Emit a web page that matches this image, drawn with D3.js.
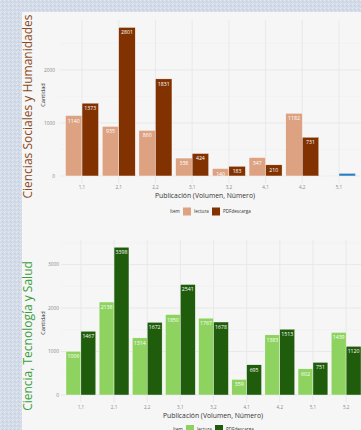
<!DOCTYPE html>
<html><head><meta charset="utf-8">
<script src="https://cdn.jsdelivr.net/npm/d3@7"></script>
<style>html,body{margin:0;padding:0;background:#d6dce8;overflow:hidden}svg{display:block}</style>
</head><body>
<script>
// ---- data ----
const topCategories = ["1,1","2,1","2,2","3,1","3,2","4,1","4,2","5,1"];
const topLectura    = [1140, 935, 860, 338, 140, 347, 1182, 10];
const topPdf        = [1373, 2801, 1831, 424, 183, 210, 731, 50];
const topYTicks     = [0, 1000, 2000];

const botCategories = ["1,1","2,1","2,2","3,1","3,2","4,1","4,2","5,1","5,2"];
const botLectura    = [1006, 2138, 1314, 1850, 1767, 359, 1383, 602, 1439];
const botPdf        = [1467, 3398, 1672, 2541, 1678, 695, 1513, 751, 1120];
const botYTicks     = [0, 1000, 2000, 3000];

const seriesNames = ["lectura", "PDFdescarga"];
const legendTitle = "Item";
const xTitle = "Publicación (Volumen, Número)";
const yTitle = "Cantidad";
const topTitle = "Ciencias Sociales y Humanidades";
const botTitle = "Ciencia, Tecnología y Salud";

const W = 361, H = 430;
const svg = d3.select("body").append("svg").attr("width", W).attr("height", H);

// textured background
const defs = svg.append("defs");
const pat = defs.append("pattern").attr("id","tex").attr("width",4).attr("height",4).attr("patternUnits","userSpaceOnUse");
pat.append("rect").attr("width",4).attr("height",4).attr("fill","#d4dbe8");
pat.append("rect").attr("x",0).attr("y",0).attr("width",1).attr("height",1).attr("fill","#e6eaf2");
pat.append("rect").attr("x",2).attr("y",1).attr("width",1).attr("height",1).attr("fill","#c5cddd");
pat.append("rect").attr("x",1).attr("y",3).attr("width",1).attr("height",1).attr("fill","#e2e6ef");
pat.append("rect").attr("x",3).attr("y",2).attr("width",1).attr("height",1).attr("fill","#cbd2e1");
svg.append("rect").attr("width",W).attr("height",H).attr("fill","url(#tex)");
svg.append("rect").attr("x",22).attr("y",12).attr("width",W-22).attr("height",H-12).attr("fill","#f6f6f6");

const font = "'Open Sans', 'Noto Sans', sans-serif";

function panel(cfg) {
  const g = svg.append("g");
  const x = d3.scalePoint().domain(cfg.categories).range(cfg.xRange).padding(0.6);
  const y = d3.scaleLinear().domain(cfg.yDomain).range(cfg.yRange);
  const step = x.step();
  const bw = step * 0.45;
  const top = cfg.yRange[1], bottom = cfg.yRange[0];

  // minor grid
  const minor = [];
  for (let i = 0; i < cfg.yTicks.length; i++) {
    const v = cfg.yTicks[i] + 500;
    if (v < cfg.yDomain[1]) minor.push(v);
  }
  g.selectAll(".minor").data(minor).join("line")
    .attr("x1", cfg.xRange[0]).attr("x2", cfg.xRange[1])
    .attr("y1", d => y(d)).attr("y2", d => y(d))
    .attr("stroke", "#eeeeee").attr("stroke-width", 0.5);
  // major grid
  g.selectAll(".major").data(cfg.yTicks).join("line")
    .attr("x1", cfg.xRange[0]).attr("x2", cfg.xRange[1])
    .attr("y1", d => y(d)).attr("y2", d => y(d))
    .attr("stroke", "#e6e6e6").attr("stroke-width", 0.8);
  g.selectAll(".vgrid").data(cfg.categories).join("line")
    .attr("x1", d => x(d)).attr("x2", d => x(d))
    .attr("y1", top).attr("y2", bottom)
    .attr("stroke", "#e6e6e6").attr("stroke-width", 0.8);

  const data = cfg.categories.map((c, i) => ({c, l: cfg.lectura[i], p: cfg.pdf[i]}));
  const colL = d => (cfg.alt && d.c === cfg.alt.cat) ? cfg.alt.l : cfg.colors[0];
  const colP = d => (cfg.alt && d.c === cfg.alt.cat) ? cfg.alt.p : cfg.colors[1];

  g.selectAll(".bl").data(data).join("rect")
    .attr("x", d => x(d.c) - bw).attr("width", bw)
    .attr("y", d => y(d.l)).attr("height", d => y(0) - y(d.l))
    .attr("fill", colL).attr("stroke", "#ffffff").attr("stroke-width", 0.4);
  g.selectAll(".bp").data(data).join("rect")
    .attr("x", d => x(d.c)).attr("width", bw)
    .attr("y", d => y(d.p)).attr("height", d => y(0) - y(d.p))
    .attr("fill", colP).attr("stroke", "#ffffff").attr("stroke-width", 0.4);

  const lab = [];
  data.forEach(d => {
    if (d.l >= 100) lab.push({x: x(d.c) - bw/2, v: d.l});
    if (d.p >= 100) lab.push({x: x(d.c) + bw/2, v: d.p});
  });
  g.selectAll(".lab").data(lab).join("text")
    .attr("x", d => d.x).attr("y", d => y(d.v) + 7)
    .attr("text-anchor", "middle").attr("font-family", font).attr("font-size", 5.2)
    .attr("fill", "#ffffff").text(d => d.v);

  // axes text
  g.selectAll(".xt").data(cfg.categories).join("text")
    .attr("x", d => x(d)).attr("y", cfg.xTickY)
    .attr("text-anchor", "middle").attr("font-family", font).attr("font-size", 4.6)
    .attr("fill", "#888").text(d => d);
  g.selectAll(".yt").data(cfg.yTicks).join("text")
    .attr("x", cfg.yTickX).attr("y", d => y(d) + 1.7)
    .attr("text-anchor", "end").attr("font-family", font).attr("font-size", 4.8)
    .attr("fill", "#888").text(d => d);
  g.append("text").attr("x", cfg.xTitleX).attr("y", cfg.xTitleY)
    .attr("text-anchor", "middle").attr("font-family", font).attr("font-size", 6.8)
    .attr("fill", "#333").text(xTitle);
  g.append("text").attr("transform", `translate(${cfg.yTitleX},${cfg.yTitleY}) rotate(-90)`)
    .attr("text-anchor", "middle").attr("font-family", font).attr("font-size", 5.6)
    .attr("fill", "#333").text(yTitle);

  // legend
  const lg = g.append("g").attr("transform", `translate(0,${cfg.legY})`);
  lg.append("text").attr("x", cfg.legX).attr("y", 5.5).attr("font-family", font).attr("font-size", 4.6)
    .attr("fill", "#333").text(legendTitle);
  const sx = [cfg.legX + 13, cfg.legX + 42];
  seriesNames.forEach((s, i) => {
    lg.append("rect").attr("x", sx[i]).attr("y", 0).attr("width", 8).attr("height", 8)
      .attr("fill", cfg.colors[i]);
    lg.append("text").attr("x", sx[i] + 11).attr("y", 5.5).attr("font-family", font).attr("font-size", 4.6)
      .attr("fill", "#333").text(s);
  });

  // side title
  svg.append("text").attr("transform", `translate(${cfg.titleX},${cfg.titleY}) rotate(-90)`)
    .attr("text-anchor", "middle").attr("font-family", font).attr("font-size", cfg.titleSize)
    .attr("fill", cfg.titleColor).text(cfg.title);
}

panel({
  categories: topCategories, lectura: topLectura, pdf: topPdf, yTicks: topYTicks,
  xRange: [60, 361], yDomain: [-140, 2941], yRange: [183.4, 20],
  colors: ["#dca282", "#823200"], alt: {cat: "5,1", l: "#a9c9e8", p: "#2e7cc0"},
  xTickY: 189.3, yTickX: 55, xTitleX: 205, xTitleY: 197.8, yTitleX: 45, yTitleY: 95,
  legX: 170, legY: 207.5,
  title: topTitle, titleX: 32, titleY: 106.5, titleSize: 12, titleColor: "#8a4a1c"
});
panel({
  categories: botCategories, lectura: botLectura, pdf: botPdf, yTicks: botYTicks,
  xRange: [61, 366], yDomain: [-170, 3568], yRange: [402.4, 239.8],
  colors: ["#8ed35f", "#1f5c0b"], alt: null,
  xTickY: 408.5, yTickX: 59, xTitleX: 213, xTitleY: 417.5, yTitleX: 45, yTitleY: 323,
  legX: 173, legY: 425,
  title: botTitle, titleX: 32, titleY: 336, titleSize: 12, titleColor: "#3a9e3a"
});
</script>
</body></html>
